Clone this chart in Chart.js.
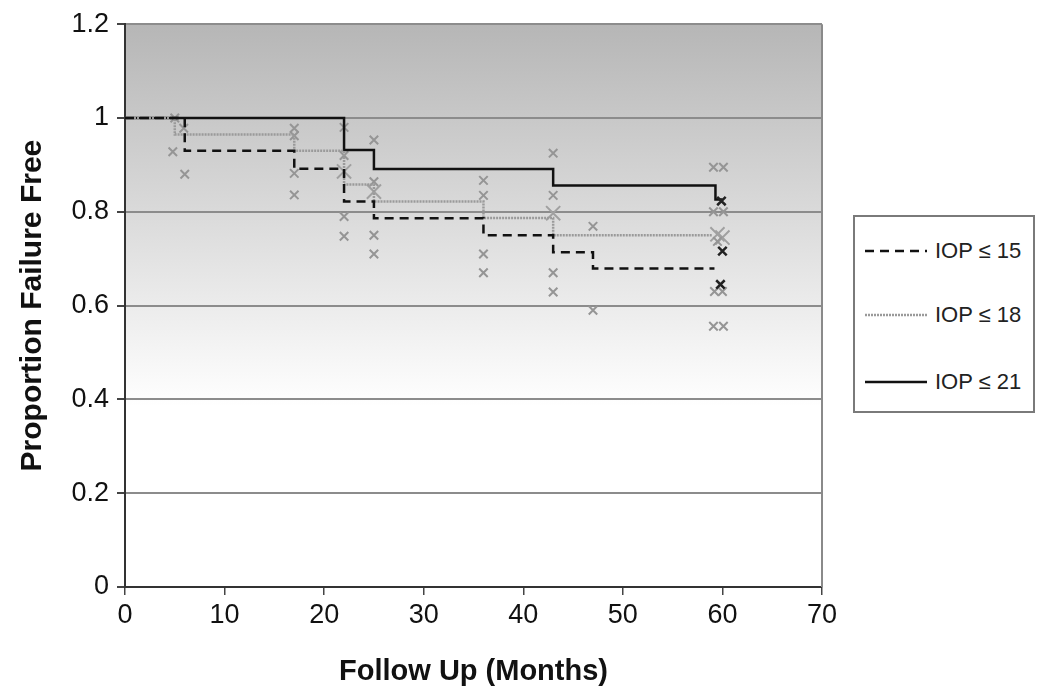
<!DOCTYPE html>
<html>
<head>
<meta charset="utf-8">
<script src="https://cdn.jsdelivr.net/npm/chart.js@4"></script>
<style>
  body { margin: 0; background: #fff; }
  #wrap { position: relative; width: 1050px; height: 696px; }
  #legend {
    position: absolute; left: 853px; top: 215px; width: 178px; height: 194px;
    border: 2px solid #7a7a7a; background: #fff;
    font-family: "Liberation Sans", Arial, sans-serif; font-size: 22px; color: #222;
  }
  .item { position: absolute; left: 10px; height: 24px; display: flex; align-items: center; }
  .item svg { margin-right: 8px; }
</style>
</head>
<body>
<div id="wrap">
  <canvas id="chart" width="1050" height="696"></canvas>
  <div id="legend"></div>
</div>
<script>
// Kaplan-Meier Kurven (Monat, Anteil)
const iop15X = [0, 6, 17, 22, 25, 36, 43, 47, 59.2];
const iop15Y = [1, 0.93, 0.892, 0.822, 0.786, 0.75, 0.714, 0.679, 0.679];
const iop18X = [0, 5, 17, 22, 25, 36, 43, 59];
const iop18Y = [1, 0.965, 0.93, 0.858, 0.822, 0.787, 0.75, 0.75];
const iop21X = [0, 22, 25, 43, 59.3, 60];
const iop21Y = [1, 0.932, 0.891, 0.856, 0.826, 0.826];

// zensierte Beobachtungen (Kreuze)
const censX = [5, 5.9, 4.8, 6, 17, 17, 17, 17, 22, 22, 22, 22, 25, 25, 25, 25,
  36, 36, 36, 36, 43, 43, 43, 43, 47, 47, 59.1, 60.1, 59.1, 60.1, 59.5, 59.2, 60, 59.1, 60.1];
const censY = [1.0, 0.978, 0.928, 0.88, 0.978, 0.962, 0.882, 0.836, 0.98, 0.92, 0.79, 0.748,
  0.953, 0.864, 0.75, 0.71, 0.867, 0.835, 0.71, 0.67, 0.925, 0.835, 0.67, 0.629, 0.769, 0.59,
  0.895, 0.895, 0.8, 0.8, 0.737, 0.63, 0.63, 0.556, 0.556];
const bigX = [22, 25, 43, 59.5, 60];
const bigY = [0.886, 0.843, 0.797, 0.752, 0.745];
const darkX = [59.9, 60, 59.8];
const darkY = [0.823, 0.716, 0.645];

const seriesNames = ['IOP ≤ 15', 'IOP ≤ 18', 'IOP ≤ 21'];
const yTicks = [0, 0.2, 0.4, 0.6, 0.8, 1, 1.2];

const toPts = (xs, ys) => xs.map((x, i) => ({ x: x, y: ys[i] }));
const FONT = '"Liberation Sans", Arial, sans-serif';

// Hintergrund des Diagrammbereichs (grauer Verlauf) und rechter Rand
const plotBg = {
  id: 'plotBg',
  beforeDraw(chart) {
    const { ctx, chartArea: a } = chart;
    const g = ctx.createLinearGradient(0, a.top, 0, a.bottom);
    g.addColorStop(0, '#b6b6b6');
    g.addColorStop(0.68, '#ffffff');
    g.addColorStop(1, '#ffffff');
    ctx.save();
    ctx.fillStyle = g;
    ctx.fillRect(a.left, a.top, a.right - a.left, a.bottom - a.top);
    ctx.restore();
  },
  afterDraw(chart) {
    const { ctx, chartArea: a } = chart;
    ctx.save();
    ctx.strokeStyle = '#8a8a8a';
    ctx.lineWidth = 2;
    ctx.beginPath();
    ctx.moveTo(a.right, a.top);
    ctx.lineTo(a.right, a.bottom);
    ctx.stroke();
    ctx.restore();
  }
};

const lineStyles = [
  { color: '#111', dash: [9, 6], width: 2.5 },
  { color: '#9a9a9a', dash: [2, 1], width: 2.5 },
  { color: '#111', dash: [], width: 2.5 }
];

const curves = [toPts(iop15X, iop15Y), toPts(iop18X, iop18Y), toPts(iop21X, iop21Y)];

const datasets = curves.map((pts, i) => ({
  label: seriesNames[i],
  data: pts,
  showLine: true,
  stepped: 'before',
  pointRadius: 0,
  borderColor: lineStyles[i].color,
  borderDash: lineStyles[i].dash,
  borderWidth: lineStyles[i].width,
  order: 1
}));

datasets.push({
  label: 'zensiert',
  data: toPts(censX, censY),
  pointStyle: 'crossRot', pointRadius: 6, borderWidth: 2,
  borderColor: '#959595', backgroundColor: '#959595', order: 2
});
datasets.push({
  label: 'zensiert (mehrfach)',
  data: toPts(bigX, bigY),
  pointStyle: 'crossRot', pointRadius: 10, borderWidth: 2,
  borderColor: '#a0a0a0', backgroundColor: '#a0a0a0', order: 2
});
datasets.push({
  label: 'zensiert (IOP ≤ 21)',
  data: toPts(darkX, darkY),
  pointStyle: 'crossRot', pointRadius: 6, borderWidth: 2.5,
  borderColor: '#222', backgroundColor: '#222', order: 0
});

new Chart(document.getElementById('chart').getContext('2d'), {
  type: 'scatter',
  data: { datasets: datasets },
  options: {
    responsive: false,
    animation: false,
    devicePixelRatio: 1,
    layout: { padding: { left: 0, right: 228, top: 22, bottom: 0 } },
    plugins: { legend: { display: false }, tooltip: { enabled: false } },
    scales: {
      x: {
        type: 'linear', min: 0, max: 70,
        afterFit: s => { s.height = 109; },
        ticks: { stepSize: 10, color: '#111', padding: 4, font: { family: FONT, size: 27 } },
        grid: { drawOnChartArea: false, drawTicks: true, tickLength: 8, color: '#444', lineWidth: 1.5 },
        border: { color: '#333', width: 2 },
        title: { display: true, text: 'Follow Up (Months)', color: '#111', padding: { top: 0, bottom: 7 },
                 font: { family: FONT, size: 29, weight: 'bold' } }
      },
      y: {
        min: 0, max: 1.2,
        afterFit: s => { s.width = 125; },
        afterBuildTicks: s => { s.ticks = yTicks.map(v => ({ value: v })); },
        ticks: { color: '#111', padding: 8, font: { family: FONT, size: 27 },
                 callback: v => String(Math.round(v * 10) / 10) },
        grid: { color: c => c.tick.value === 0 ? 'rgba(0,0,0,0)' : '#8c8c8c', lineWidth: 2,
                tickColor: '#444', tickLength: 8 },
        border: { color: '#333', width: 2 },
        title: { display: true, text: 'Proportion Failure Free', color: '#111', padding: { top: 15, bottom: 0 },
                 font: { family: FONT, size: 30, weight: 'bold' } }
      }
    }
  },
  plugins: [plotBg]
});

// Legende mit Rahmen rechts neben dem Diagramm
const legend = document.getElementById('legend');
const itemTops = [22, 86, 153];
seriesNames.forEach((name, i) => {
  const st = lineStyles[i];
  const div = document.createElement('div');
  div.className = 'item';
  div.style.top = itemTops[i] + 'px';
  div.innerHTML = '<svg width="62" height="6"><line x1="0" y1="3" x2="62" y2="3" stroke="' + st.color +
    '" stroke-width="' + st.width + '" stroke-dasharray="' + (st.dash.length ? st.dash.join(',') : 'none') +
    '"/></svg><span>' + name + '</span>';
  legend.appendChild(div);
});
</script>
</body>
</html>
